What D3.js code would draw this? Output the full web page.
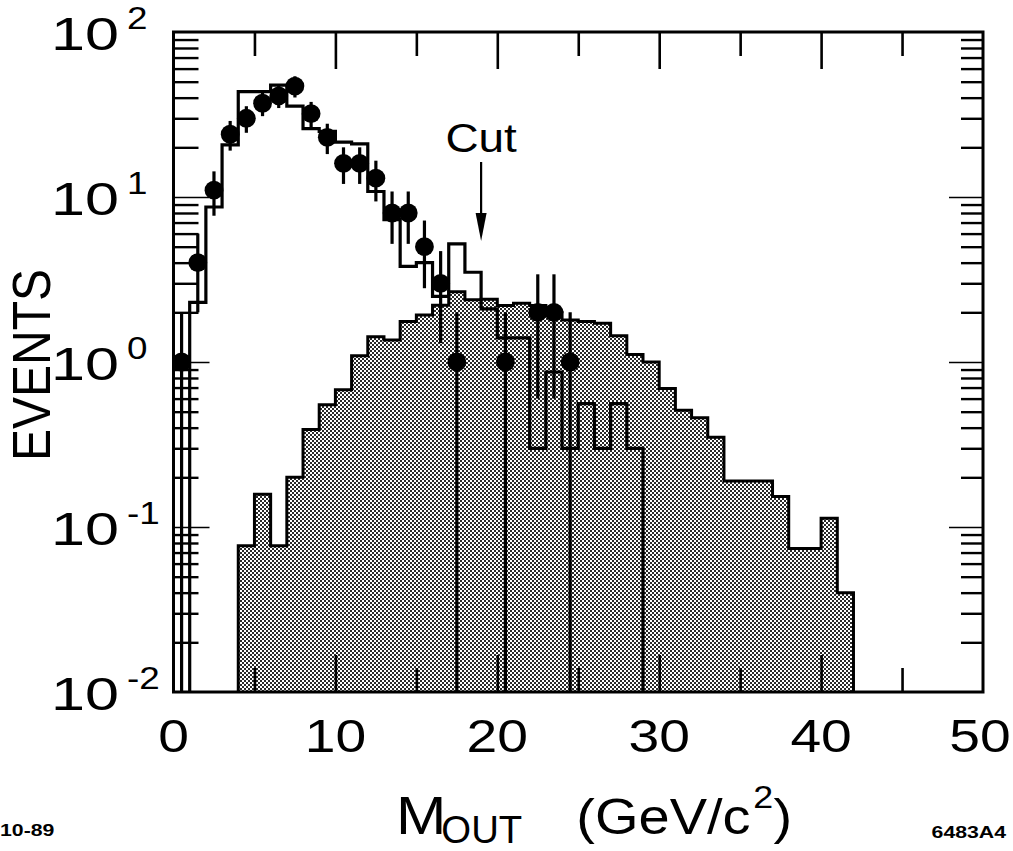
<!DOCTYPE html>
<html><head><meta charset="utf-8">
<script src="https://cdn.jsdelivr.net/npm/d3@7"></script>
<style>
html,body{margin:0;padding:0;background:#fff;}
svg{display:block;}
text{font-family:"Liberation Sans",Arial,Helvetica,sans-serif;fill:#000;}
</style>
</head><body>
<svg id="chart" width="1013" height="851"></svg>
<script>
// ---------------- data ----------------
const binWidth = 1;
// open (unshaded) Monte Carlo histogram: lower bin edges and contents
const openBins   = [1,2,3,4,5,6,7,8,9,10,11,12,13,14,15,16,17,18,19,20,21,22,23,24,25,26,27,28];
const openValues = [2.3,8.7,20.7,43.5,43.5,47.7,35.5,26,25,21.5,21,10.8,7.3,3.8,4.0,2.5,5.2,3.5,2.1,1.4,1.4,0.3,0.87,0.3,0.56,0.3,0.56,0.3];
// shaded background histogram
const shadedBins   = [4,5,6,7,8,9,10,11,12,13,14,15,16,17,18,19,20,21,22,23,24,25,26,27,28,29,30,31,32,33,34,35,36,37,38,39,40,41];
const shadedValues = [0.077,0.158,0.077,0.20,0.39,0.55,0.68,1.09,1.42,1.36,1.76,1.93,2.21,2.67,2.38,2.4,2.2,2.27,2.2,2.0,1.8,1.76,1.72,1.44,1.11,1.0,0.69,0.51,0.46,0.35,0.19,0.19,0.19,0.153,0.074,0.074,0.113,0.040];
// data points (events) with errors
const dataX   = [0.5,1.5,2.5,3.5,4.5,5.5,6.5,7.5,8.5,9.5,10.5,11.5,12.5,13.5,14.5,15.5,16.5,17.5,20.5,22.5,23.5,24.5];
const dataY   = [1,4,11,24,30,37,41,47,32,23,16,16,13,8,8,5,3,1,1,2,2,1];
const dataErr = [1,2,3.3,4.9,5.5,6.1,6.4,6.9,5.7,4.8,4,4,3.6,2.8,2.8,2.2,1.7,1,1,1.4,1.4,1];
// axes
const xDomain = [0,50];
const xTickValues = [0,10,20,30,40,50];
const xMajorInner = [10,20,30,40];
const xMinorTicks = [5,15,25,35,45];
const yExponents = [-2,-1,0,1,2];
const yMinorMultipliers = [2,3,4,5,6,7,8,9];
const cutPosition = 19;
const cutLabel = "Cut";

// ---------------- layout ----------------
const L = 173.5, R = 983, T = 32, B = 692;
const SX = 1.12;      // horizontal stretch of lettering
const SXNUM = 1.2;    // numerals are drawn wider

const svg = d3.select("#chart");
const x = d3.scaleLinear().domain(xDomain).range([L, R]);
const y = d3.scaleLog().domain([0.01, 100]).range([B, T]).clamp(true);
const yv = v => y(Math.max(v, 0.01));

// stipple pattern for shaded histogram
const defs = svg.append("defs");
const pat = defs.append("pattern").attr("id","stipple")
  .attr("patternUnits","userSpaceOnUse").attr("width",4).attr("height",4);
pat.append("rect").attr("width",4).attr("height",4).attr("fill","#fff");
pat.append("rect").attr("x",0).attr("y",0).attr("width",2).attr("height",2).attr("fill","#2a2a2a");
pat.append("rect").attr("x",2).attr("y",2).attr("width",2).attr("height",2).attr("fill","#2a2a2a");

function stepPath(bins, vals) {
  let p = `M${x(bins[0])},${B}`;
  bins.forEach((b, i) => { p += `V${yv(vals[i])}H${x(b + binWidth)}`; });
  p += `V${B}`;
  return p;
}

// shaded histogram
svg.append("path").attr("d", stepPath(shadedBins, shadedValues) + "Z")
  .attr("fill","url(#stipple)").attr("stroke","none");
svg.append("path").attr("d", stepPath(shadedBins, shadedValues))
  .attr("fill","none").attr("stroke","#000").attr("stroke-width",3);

// open histogram
svg.append("path").attr("d", stepPath(openBins, openValues))
  .attr("fill","none").attr("stroke","#000").attr("stroke-width",3.2);

// ---------------- ticks (d3 axes) ----------------
function styleAxis(g, w) {
  g.select(".domain").remove();
  g.selectAll("text").remove();
  g.selectAll("line").attr("stroke","#000").attr("stroke-width", w);
}
svg.append("g").attr("transform",`translate(0,${B})`)
  .call(d3.axisTop(x).tickValues(xMajorInner).tickSize(37).tickFormat(""))
  .call(g => styleAxis(g, 2.6));
svg.append("g").attr("transform",`translate(0,${T})`)
  .call(d3.axisBottom(x).tickValues(xMajorInner).tickSize(37).tickFormat(""))
  .call(g => styleAxis(g, 2.6));
svg.append("g").attr("transform",`translate(0,${B})`)
  .call(d3.axisTop(x).tickValues(xMinorTicks).tickSize(24).tickFormat(""))
  .call(g => styleAxis(g, 2.6));
svg.append("g").attr("transform",`translate(0,${T})`)
  .call(d3.axisBottom(x).tickValues(xMinorTicks).tickSize(24).tickFormat(""))
  .call(g => styleAxis(g, 2.6));
const yMajor = yExponents.slice(1, -1).map(e => Math.pow(10, e));
const yMinor = [];
yExponents.slice(0, -1).forEach(e => yMinorMultipliers.forEach(k => yMinor.push(k * Math.pow(10, e))));
svg.append("g").attr("transform",`translate(${L},0)`)
  .call(d3.axisRight(y).tickValues(yMajor).tickSize(36).tickFormat(""))
  .call(g => styleAxis(g, 1.6));
svg.append("g").attr("transform",`translate(${R},0)`)
  .call(d3.axisLeft(y).tickValues(yMajor).tickSize(34).tickFormat(""))
  .call(g => styleAxis(g, 1.6));
svg.append("g").attr("transform",`translate(${L},0)`)
  .call(d3.axisRight(y).tickValues(yMinor).tickSize(25).tickFormat(""))
  .call(g => styleAxis(g, 2.4));
svg.append("g").attr("transform",`translate(${R},0)`)
  .call(d3.axisLeft(y).tickValues(yMinor).tickSize(22).tickFormat(""))
  .call(g => styleAxis(g, 2.4));

// frame
svg.append("rect").attr("x",L).attr("y",T).attr("width",R-L).attr("height",B-T)
  .attr("fill","none").attr("stroke","#000").attr("stroke-width",3);

// ---------------- data points ----------------
const pts = svg.append("g");
dataX.forEach((dx, i) => {
  const v = dataY[i], e = dataErr[i];
  pts.append("line").attr("x1",x(dx)).attr("x2",x(dx))
    .attr("y1",yv(v - e)).attr("y2",yv(v + e))
    .attr("stroke","#000").attr("stroke-width",3.2);
});
pts.selectAll("circle").data(dataX).join("circle")
  .attr("cx", d => x(d)).attr("cy", (d, i) => yv(dataY[i])).attr("r", 9.4).attr("fill","#000");

// ---------------- text ----------------
function stretchedText(parent, tx, ty, str, size, anchor, sx) {
  const g = parent.append("g").attr("transform",`translate(${tx},${ty}) scale(${sx||SX},1)`);
  return g.append("text").attr("x",0).attr("y",0).attr("font-size",size)
    .attr("text-anchor",anchor||"start").text(str);
}
// x tick labels
xTickValues.forEach(v => stretchedText(svg, x(v) - (v === 50 ? 3 : 0), 752, String(v), 46, "middle", SXNUM));
// y tick labels 10^n
yExponents.forEach(e => {
  const yy = y(Math.pow(10, e));
  stretchedText(svg, 119, yy + 18, "10", 47, "end", 1.3);
  stretchedText(svg, 127, yy - 3, String(e), 32, "start", 1.15);
});
// y title
svg.append("g").attr("transform",`translate(50,365) scale(${SX},1) rotate(-90)`)
  .append("text").attr("font-size",48).attr("text-anchor","middle").text("EVENTS");
// x title
const xt = svg.append("g").attr("transform",`translate(396,834) scale(${SX},1)`);
xt.append("text").attr("x",0).attr("y",0).attr("font-size",54).text("M");
xt.append("text").attr("x",45).attr("y",9).attr("font-size",38).attr("transform","scale(0.9,1)").text("OUT");
xt.append("text").attr("x",161).attr("y",0).attr("font-size",50).text("(GeV/c");
xt.append("text").attr("x",319).attr("y",-26).attr("font-size",32).text("2");
xt.append("text").attr("x",337).attr("y",0).attr("font-size",50).text(")");
// cut marker
const cx = x(cutPosition);
stretchedText(svg, cx, 152, cutLabel, 41, "middle");
svg.append("line").attr("x1",cx).attr("x2",cx).attr("y1",162).attr("y2",216)
  .attr("stroke","#000").attr("stroke-width",2.2);
svg.append("path").attr("d",`M${cx-5.5},213L${cx+5.5},213L${cx},241Z`).attr("fill","#000");
// corner notes
stretchedText(svg, 0, 836, "10-89", 17, "start", 1.25).attr("font-weight","bold");
stretchedText(svg, 1006, 838, "6483A4", 17, "end", 1.25).attr("font-weight","bold");
</script>
</body></html>
